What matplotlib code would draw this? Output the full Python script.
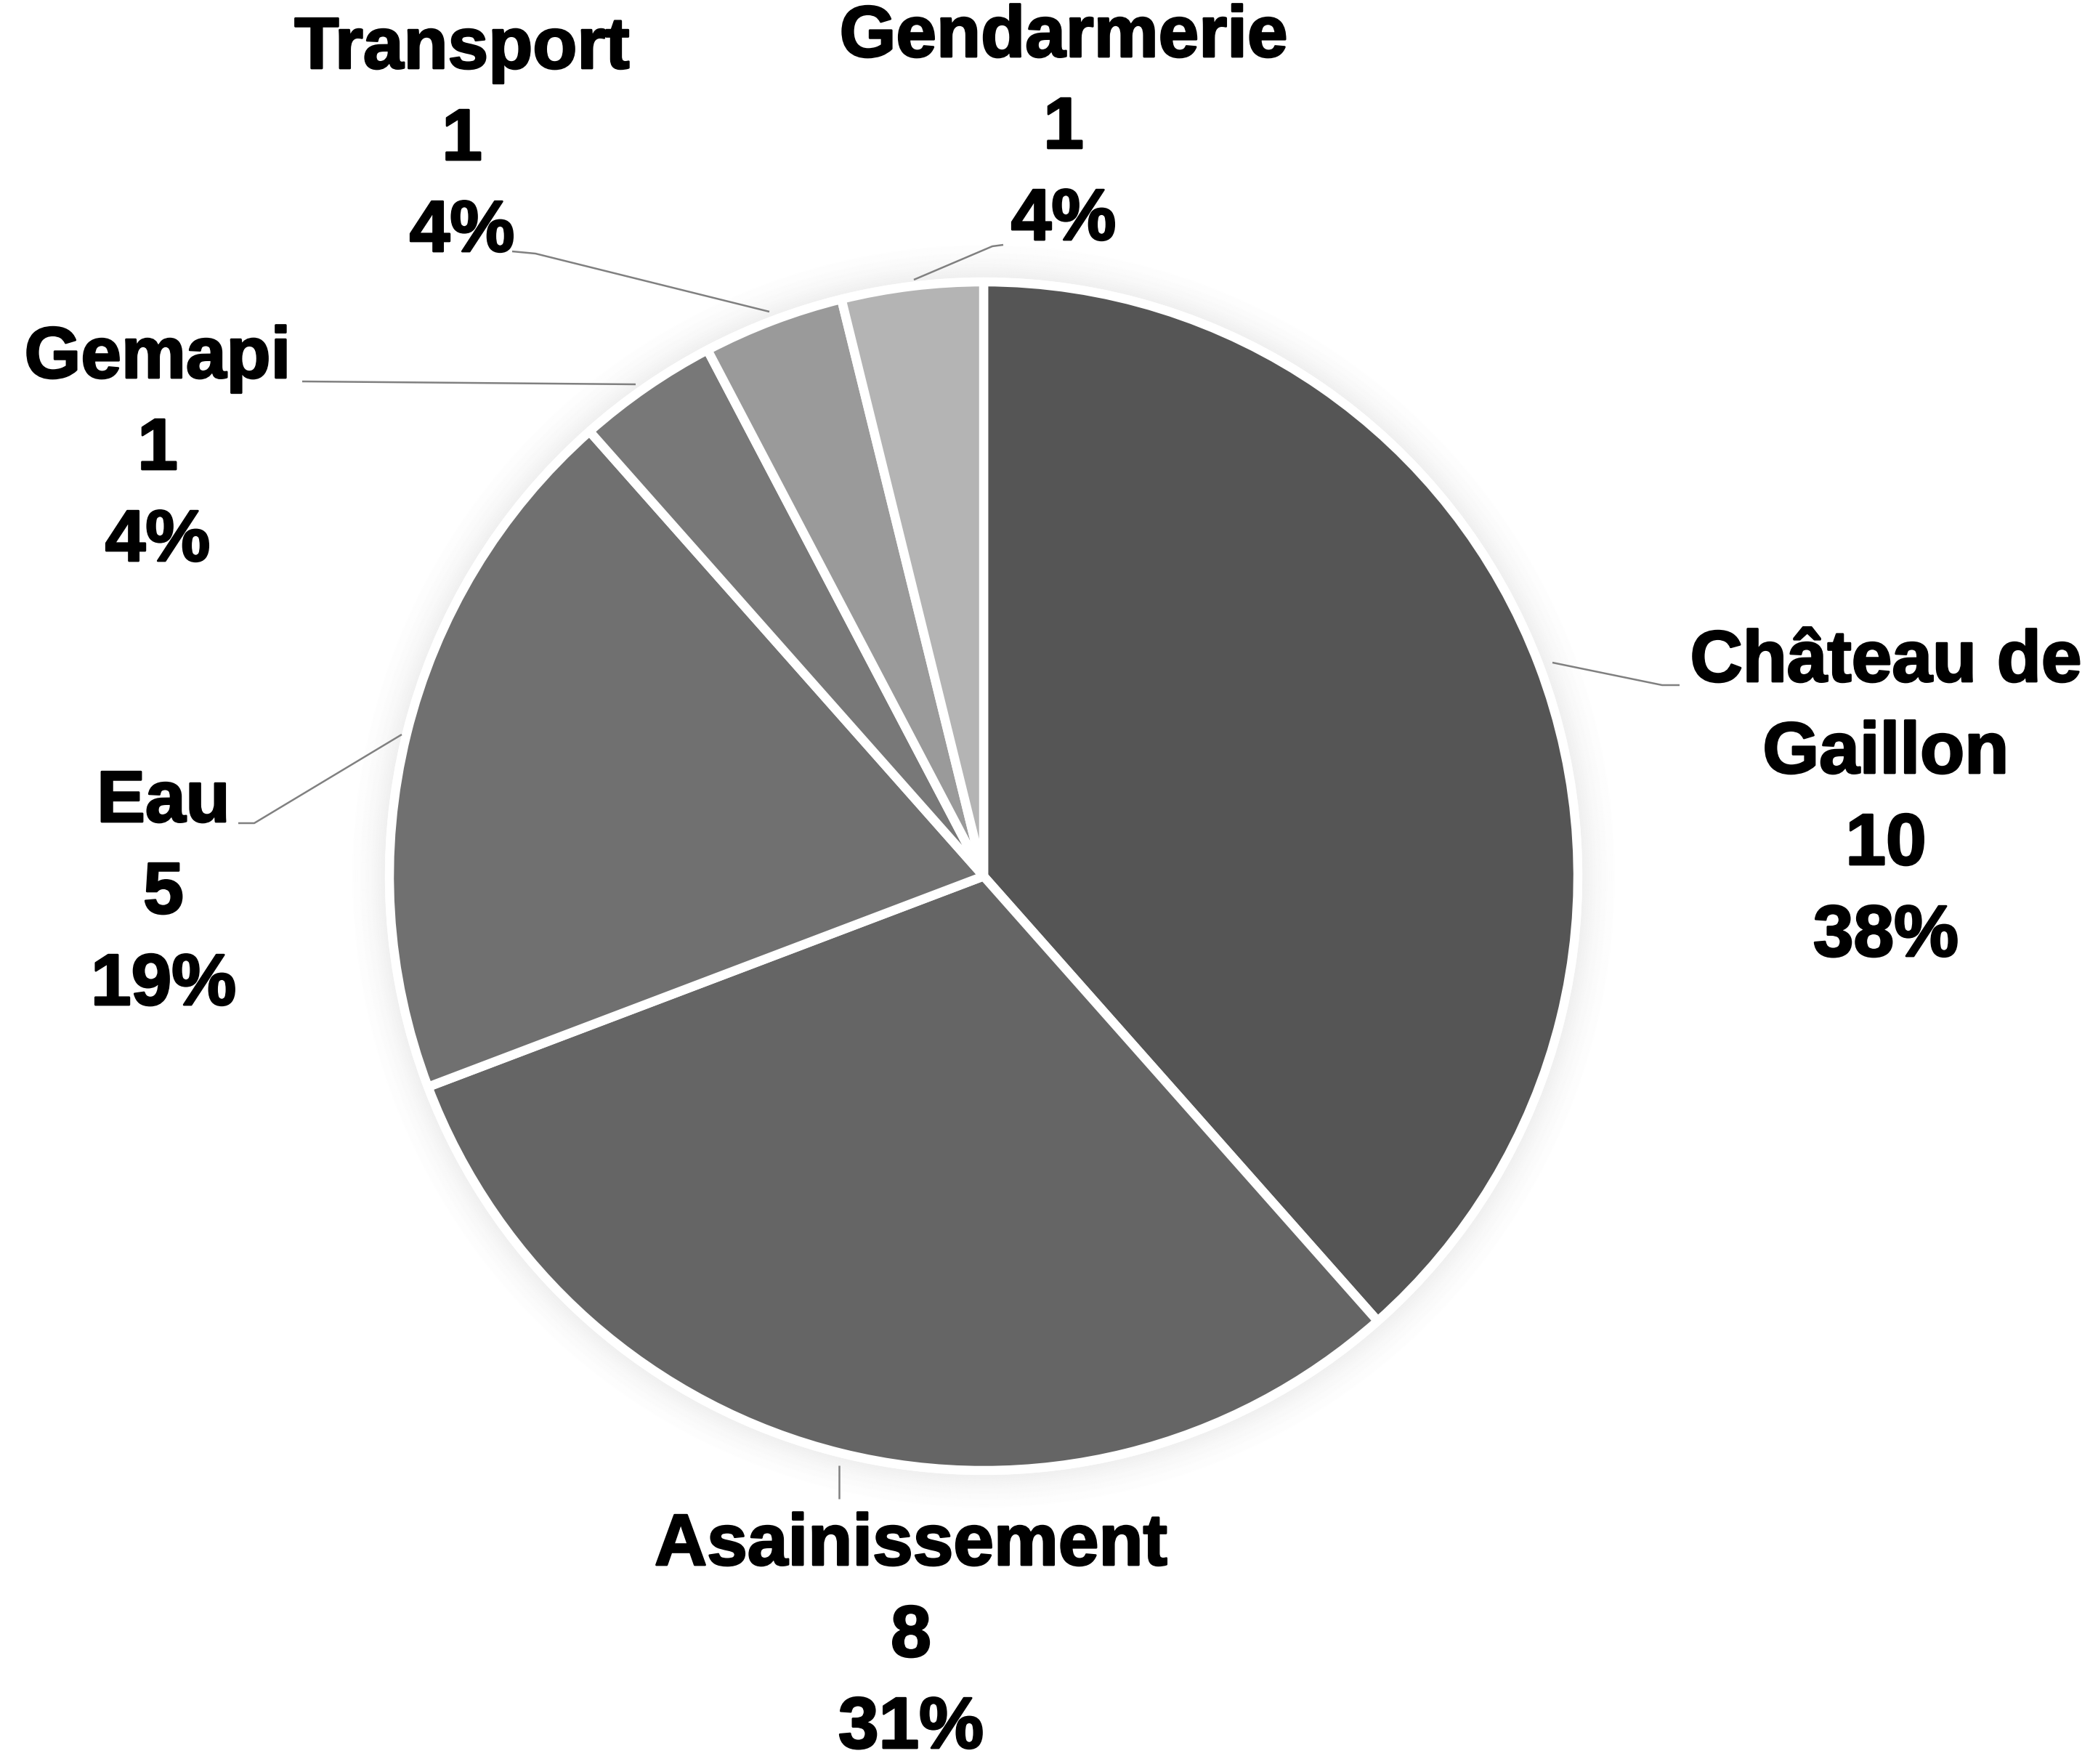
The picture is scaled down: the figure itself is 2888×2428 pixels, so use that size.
import matplotlib
matplotlib.use("Agg")
import matplotlib.pyplot as plt
from matplotlib.patches import Circle
import matplotlib.patheffects as pe

# ---- data ----
categories = ["Château de\nGaillon", "Asainissement", "Eau", "Gemapi", "Transport", "Gendarmerie"]
values = [10, 8, 5, 1, 1, 1]
colors = ["#555555", "#656565", "#707070", "#787878", "#9a9a9a", "#b4b4b4"]

# ---- layout (pixel coordinates, y measured from top) ----
W, H = 2888, 2428
cx, cy, R = 1354, 1206, 818
label_pos = [(2596, 912), (1254, 2128), (225, 1105), (217, 494), (636, 68), (1464, 52)]
line_step = 126
leaders = [
    [(2137, 912), (2288, 943), (2312, 943)],
    [(1155, 2017), (1155, 2063)],
    [(553, 1011), (350, 1133), (328, 1133)],
    [(875, 529), (416, 525)],
    [(1059, 429), (737, 349), (705, 346)],
    [(1258, 385), (1366, 339), (1381, 337)],
]

fig = plt.figure(figsize=(W / 100, H / 100), dpi=100)
ax = fig.add_axes([0, 0, 1, 1])

def Y(y):
    return H - y

# soft shadow glow
for i in range(40):
    r = R + 6 + i * 1.5
    ax.add_patch(Circle((cx, Y(cy)), r, facecolor="none", edgecolor="black",
                        linewidth=2.2, alpha=0.03 * ((40 - i) / 40) ** 2, zorder=0))
ax.add_patch(Circle((cx, Y(cy)), R + 6, facecolor="white", edgecolor="none", zorder=0.5))

ax.pie(values, colors=colors, startangle=90, counterclock=False,
       center=(cx, Y(cy)), radius=R, frame=True,
       wedgeprops=dict(edgecolor="white", linewidth=9, joinstyle="round"))
ax.set_xlim(0, W)
ax.set_ylim(0, H)
ax.set_aspect("equal")
ax.axis("off")

total = sum(values)
for cat, v, (lx, ly) in zip(categories, values, label_pos):
    lines = cat.split("\n") + [str(v), f"{round(100 * v / total)}%"]
    for k, t in enumerate(lines):
        ax.text(lx, Y(ly + k * line_step), t, ha="center", va="center",
                fontsize=72, fontweight="bold", family="Liberation Sans", color="black",
                path_effects=[pe.withStroke(linewidth=2.0, foreground="black")])

for pts in leaders:
    ax.plot([p[0] for p in pts], [Y(p[1]) for p in pts], color="#808080", lw=1.8,
            solid_capstyle="butt", zorder=3)

fig.savefig("out.png", dpi=100, facecolor="white")
